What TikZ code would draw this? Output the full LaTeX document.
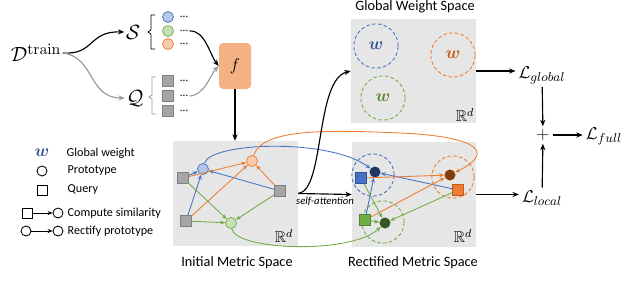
\documentclass[tikz,border=0pt]{standalone}
\usepackage{amsmath}
\usepackage{amssymb}
\usepackage[no-math]{fontspec}
\setmainfont{Carlito}
\usepackage{tikz}
\usetikzlibrary{arrows.meta, positioning}
\definecolor{cblue}{HTML}{4472C4}
\definecolor{cbluel}{HTML}{B4C7E7}
\definecolor{cblued}{HTML}{203864}
\definecolor{corange}{HTML}{ED7D31}
\definecolor{corangel}{HTML}{F8CBAD}
\definecolor{coranged}{HTML}{843C0C}
\definecolor{cgreen}{HTML}{70AD47}
\definecolor{cgreenl}{HTML}{C5E0B4}
\definecolor{cgreend}{HTML}{385723}
\definecolor{wblue}{HTML}{2F5597}
\definecolor{worange}{HTML}{C55A11}
\definecolor{wgreen}{HTML}{548235}
\definecolor{qgray}{HTML}{A5A5A5}
\definecolor{qgrayd}{HTML}{7F7F7F}
\definecolor{spacegray}{HTML}{E7E6E6}
\definecolor{fnetc}{HTML}{F4B183}

\begin{document}
\begin{tikzpicture}[
      x=0.7pt, y=-0.7pt, >={Stealth[length=4.5pt,width=3.6pt]},
      font=\fontsize{10}{12}\selectfont,
      proto/.style={circle, draw, inner sep=0pt, minimum size=7.7pt, line width=0.5pt},
      qry/.style={rectangle, draw=qgrayd, fill=qgray, inner sep=0pt, minimum size=8pt, line width=0.4pt},
      rproto/.style={circle, inner sep=0pt, minimum size=7.7pt},
      rqry/.style={rectangle, inner sep=0pt, minimum size=7.7pt, line width=0.4pt},
      ring/.style={circle, draw, dash pattern=on 2.5pt off 1.6pt, line width=0.6pt, minimum size=29.6pt, inner sep=0pt},
      gring/.style={ring, minimum size=31pt, font=\fontsize{12}{14}\selectfont},
      space/.style={rectangle, fill=spacegray, inner sep=0pt},
      dots/.style={font=\fontsize{8}{9}\selectfont, inner sep=1pt},
      bigmath/.style={font=\fontsize{15}{17}\selectfont, inner sep=1pt},
      loss/.style={font=\fontsize{13}{15}\selectfont, inner sep=2pt},
      rdlbl/.style={font=\fontsize{11}{13}\selectfont, inner sep=0pt},
      link/.style={-{Stealth[length=3.5pt,width=2.8pt]}, line width=0.6pt},
      flow/.style={->, line width=0.8pt},
      lgd/.style={anchor=west, inner sep=1pt, font=\fontsize{8.5}{10}\selectfont},
      lcirc/.style={circle, draw, inner sep=0pt, minimum size=7pt, line width=0.6pt},
      lsq/.style={rectangle, draw, inner sep=0pt, minimum size=7pt, line width=0.6pt}]
    \useasboundingbox (0,0) rectangle (640,292);
    % data and embedding
    \node[bigmath] (dtrain) at (36,53) {$\mathcal{D}^{\mathrm{train}}$};
    \node[bigmath] (sset) at (133,32) {$\mathcal{S}$};
    \node[bigmath] (qset) at (135,98) {$\mathcal{Q}$};
    \draw[line width=0.5pt] (155,15) -- (151,15) -- (151,30) -- (148,32) -- (151,34) -- (151,49) -- (155,49);
    \draw[line width=0.5pt, black!40] (156,77) -- (152,77) -- (152,95) -- (149,97) -- (152,99) -- (152,114) -- (156,114);
    \node[proto, draw=cblue, fill=cbluel] (sup1) at (168,17) {};
    \node[proto, draw=cgreen, fill=cgreenl] (sup2) at (168,31) {};
    \node[proto, draw=corange, fill=corangel] (sup3) at (168,44) {};
    \node[dots] (sup1d) at (184,17) {\dots};
    \node[dots] (sup2d) at (184,31) {\dots};
    \node[dots] (sup3d) at (184,44) {\dots};
    \node[qry] (qry1) at (168,81) {};
    \node[qry] (qry2) at (168,96) {};
    \node[qry] (qry3) at (168,111) {};
    \node[dots] (qry1d) at (184,81) {\dots};
    \node[dots] (qry2d) at (184,96) {\dots};
    \node[dots] (qry3d) at (184,111) {\dots};
    \node[rectangle, rounded corners=3pt, fill=fnetc, minimum width=22.4pt, minimum height=32.2pt, font=\fontsize{13}{15}\selectfont] (fnet) at (235,66) {$f$};
    \draw[flow] (dtrain.east) .. controls (95,55) and (88,31) .. (sset.west);
    \draw[flow, black!40] (dtrain.east) .. controls (95,57) and (88,98) .. (qset.west);
    \draw[flow] (sup2d.east) .. controls (205,30) and (210,55) .. (fnet.west);
    \draw[flow, black!40] (qry2d.east) .. controls (205,95) and (210,75) .. (fnet.west);
    % initial metric space
    \node[space, minimum width=87.5pt, minimum height=73.5pt] (initbox) at (235.5,193.5) {};
    \node (initlbl) at (237,263) {Initial Metric Space};
    \node[rdlbl] (initrd) at (284,236) {$\mathbb{R}^d$};
    \draw[flow] (fnet.south) -- (fnet.south |- initbox.north);
    \node[proto, draw=cblue, fill=cbluel] (ib) at (203,169) {};
    \node[proto, draw=corange, fill=corangel] (io) at (252,161) {};
    \node[proto, draw=cgreen, fill=cgreenl] (ig) at (231,223) {};
    \node[qry] (iqa) at (183,178) {};
    \node[qry] (iqb) at (186,221) {};
    \node[qry] (iqc) at (280,191) {};
    \draw[link, cblue] (iqa) -- (ib);
    \draw[link, cblue] (iqb) -- (ib);
    \draw[link, cblue] (iqc) -- (ib);
    \draw[link, corange] (iqa) -- (io);
    \draw[link, corange] (iqb) -- (io);
    \draw[link, corange] (iqc) -- (io);
    \draw[link, cgreen] (iqa) -- (ig);
    \draw[link, cgreen] (iqb) -- (ig);
    \draw[link, cgreen] (iqc) -- (ig);
    % rectified metric space
    \node[space, minimum width=86.8pt, minimum height=73.5pt] (rectbox) at (414,194.5) {};
    \node (rectlbl) at (413,263) {Rectified Metric Space};
    \node[rdlbl] (rectrd) at (463,236) {$\mathbb{R}^d$};
    \node[ring, draw=cblue] (ringb) at (373,175) {};
    \node[ring, draw=corange] (ringo) at (453,177) {};
    \node[ring, draw=cgreen] (ringg) at (383,222) {};
    \node[rproto, fill=cblued] (rb) at (375,172) {};
    \node[rproto, fill=coranged] (ro) at (450,175) {};
    \node[rproto, fill=cgreend] (rg) at (385,223) {};
    \node[rqry, fill=cblue, draw=wblue] (rqb) at (361,178) {};
    \node[rqry, fill=corange, draw=worange] (rqo) at (458,190) {};
    \node[rqry, fill=cgreen, draw=wgreen] (rqg) at (365,220) {};
    \draw[link, cblue] (rqo) -- (rb);
    \draw[link, cblue] (rqg) -- (rb);
    \draw[link, corange] (rqb) -- (ro);
    \draw[link, corange] (rqg) -- (ro);
    \draw[link, cgreen] (rqb) -- (rg);
    \draw[link, cgreen] (rqg) -- (rg);
    \draw[link, cgreen] (rqo) -- (rg);
    \draw[link, cblue] (ib) .. controls (210,142) and (330,138) .. (rb);
    \draw[link, corange] (io) .. controls (262,128) and (330,130) .. (400,133) .. controls (470,136) and (500,150) .. (ro);
    \draw[link, cgreen] (ig) .. controls (235,250) and (350,255) .. (rg);
    % global weight space
    \node[space, minimum width=87.5pt, minimum height=72.8pt] (globalbox) at (413.5,71) {};
    \node (globallbl) at (415,7) {Global Weight Space};
    \node[rdlbl] (globalrd) at (465,115) {$\mathbb{R}^d$};
    \node[gring, draw=cblue, text=wblue] (gwb) at (376,46) {$\boldsymbol{w}$};
    \node[gring, draw=corange, text=worange] (gwo) at (453,55) {$\boldsymbol{w}$};
    \node[gring, draw=cgreen, text=wgreen] (gwg) at (383,98) {$\boldsymbol{w}$};
    \draw[flow] (initbox.east) -- node[below, font=\fontsize{7.5}{9}\selectfont\itshape, inner sep=2pt] {self-attention} (rectbox.west);
    \draw[flow] (initbox.east) .. controls (325,190) and (315,80) .. (globalbox.west);
    % losses
    \node[loss] (lglobal) at (542,75) {$\mathcal{L}_{global}$};
    \node[loss] (lplus) at (543,135) {$+$};
    \node[loss] (lfull) at (604,136) {$\mathcal{L}_{full}$};
    \node[loss] (llocal) at (542,198) {$\mathcal{L}_{local}$};
    \draw[flow] (globalbox.east) -- (globalbox.east -| lglobal.west);
    \draw[flow] (rectbox.east) -- (rectbox.east -| llocal.west);
    \draw[flow] (lglobal) -- (lplus);
    \draw[flow] (llocal) -- (lplus);
    \draw[flow] (lplus) -- (lplus -| lfull.west);
    % legend
    \node[text=wblue, font=\fontsize{12}{14}\selectfont, inner sep=0pt] (lgw) at (42,153) {$\boldsymbol{w}$};
    \node[lgd] (lgwtxt) at (65,153) {Global weight};
    \node[lcirc] (lgp) at (42,171) {};
    \node[lgd] (lgptxt) at (66,171) {Prototype};
    \node[lsq] (lgq) at (42,190) {};
    \node[lgd] (lgqtxt) at (66,190) {Query};
    \node[lsq] (lgcs) at (27,213) {};
    \node[lcirc] (lgct) at (58,213) {};
    \draw[link] (lgcs) -- (lgct);
    \node[lgd] (lgctxt) at (66,213) {Compute similarity};
    \node[lcirc] (lgrs) at (26,231) {};
    \node[lcirc] (lgrt) at (58,231) {};
    \draw[link] (lgrs) -- (lgrt);
    \node[lgd] (lgrtxt) at (66,231) {Rectify prototype};
  \end{tikzpicture}
\end{document}
